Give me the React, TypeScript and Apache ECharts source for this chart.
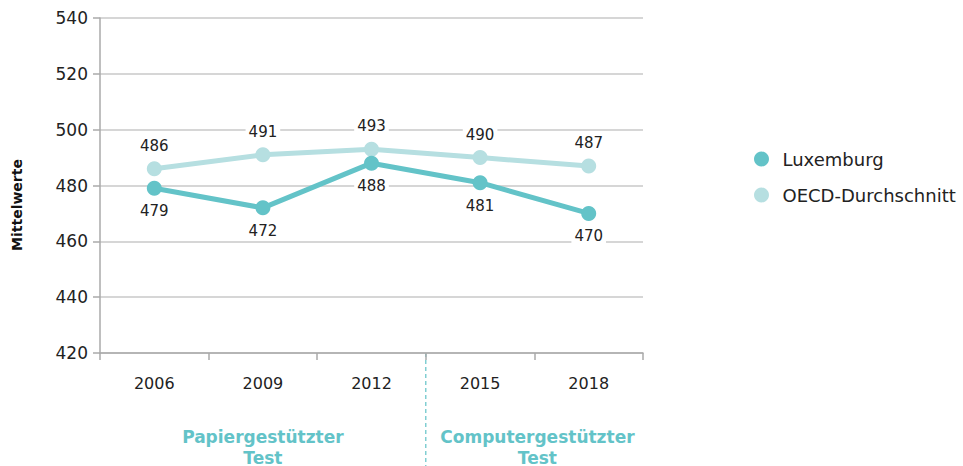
import React, { useEffect, useRef } from "react";
import * as echarts from "echarts";

const years = ["2006", "2009", "2012", "2015", "2018"];
const luxembourg = [479, 472, 488, 481, 470];
const oecd = [486, 491, 493, 490, 487];
const seriesNames = ["Luxemburg", "OECD-Durchschnitt"];
const groupLabels = ["Papiergestützter\nTest", "Computergestützter\nTest"];
const yAxisName = "Mittelwerte";

const C_LUX = "#63c3c8";
const C_OECD = "#b6dfe1";
const C_GROUP = "#63c3c8";
const FONT = "'DejaVu Sans', sans-serif";

export default function App() {
  const ref = useRef<HTMLDivElement>(null);
  useEffect(() => {
    if (!ref.current) return;
    const chart = echarts.init(ref.current, undefined, { renderer: "svg" });
    const gridLeft = 100, gridTop = 18, gridRight = 320, gridBottom = 113;
    const W = 963, H = 466;
    const plotW = W - gridLeft - gridRight;
    const step = plotW / years.length;
    const splitX = gridLeft + step * 3;
    const labelStyle = (pos: string) => ({
      show: true,
      position: pos,
      distance: 7,
      fontSize: 15,
      fontFamily: FONT,
      color: "#222",
      backgroundColor: "#fff",
      padding: [1, 3],
    });
    chart.setOption({
      animation: false,
      textStyle: { fontFamily: FONT },
      grid: { left: gridLeft, top: gridTop, right: gridRight, bottom: gridBottom },
      legend: {
        orient: "vertical",
        left: 749,
        top: 145,
        itemGap: 18,
        itemWidth: 24,
        itemHeight: 15,
        icon: "circle",
        textStyle: { fontSize: 18, fontFamily: FONT, color: "#222", padding: [0, 0, 0, 4] },
        data: seriesNames,
      },
      xAxis: {
        type: "category",
        data: years,
        boundaryGap: true,
        axisLine: { lineStyle: { color: "#aaa", width: 1.5 } },
        axisTick: { show: true, length: 7, lineStyle: { color: "#aaa", width: 1.5 } },
        axisLabel: { fontSize: 16, color: "#222", margin: 22, fontFamily: FONT },
      },
      yAxis: {
        type: "value",
        min: 420,
        max: 540,
        interval: 20,
        axisLine: { show: true, lineStyle: { color: "#aaa", width: 1.5 } },
        axisTick: { show: true, length: 7, lineStyle: { color: "#aaa", width: 1.5 } },
        axisLabel: { fontSize: 17, color: "#222", margin: 12, fontFamily: FONT },
        splitLine: { lineStyle: { color: "#c8c8c8", width: 1.5 } },
      },
      series: [
        {
          name: seriesNames[1],
          type: "line",
          data: oecd,
          color: C_OECD,
          symbol: "circle",
          symbolSize: 15,
          lineStyle: { width: 5, color: C_OECD },
          itemStyle: { color: C_OECD },
          label: labelStyle("top"),
          z: 2,
        },
        {
          name: seriesNames[0],
          type: "line",
          data: luxembourg,
          color: C_LUX,
          symbol: "circle",
          symbolSize: 15,
          lineStyle: { width: 5, color: C_LUX },
          itemStyle: { color: C_LUX },
          label: labelStyle("bottom"),
          z: 3,
        },
      ],
      graphic: [
        {
          type: "line",
          shape: { x1: splitX, y1: H - gridBottom, x2: splitX, y2: H },
          style: { stroke: C_GROUP, lineWidth: 1.2, lineDash: [4, 3] },
        },
        {
          type: "text",
          x: (gridLeft + splitX) / 2,
          y: 426,
          style: {
            text: groupLabels[0],
            fill: C_GROUP,
            font: `bold 17px ${FONT}`,
            align: "center",
            verticalAlign: "top",
            lineHeight: 21,
          },
        },
        {
          type: "text",
          x: (splitX + W - gridRight) / 2 + 3,
          y: 426,
          style: {
            text: groupLabels[1],
            fill: C_GROUP,
            font: `bold 17px ${FONT}`,
            align: "center",
            verticalAlign: "top",
            lineHeight: 21,
          },
        },
        {
          type: "text",
          x: 17,
          y: 205,
          rotation: Math.PI / 2,
          style: {
            text: yAxisName,
            fill: "#111",
            font: `bold 14px ${FONT}`,
            align: "center",
            verticalAlign: "middle",
          },
        },
      ],
    });
    return () => chart.dispose();
  }, []);
  return <div ref={ref} style={{ width: 963, height: 466, position: "absolute", left: 0, top: 0 }} />;
}
